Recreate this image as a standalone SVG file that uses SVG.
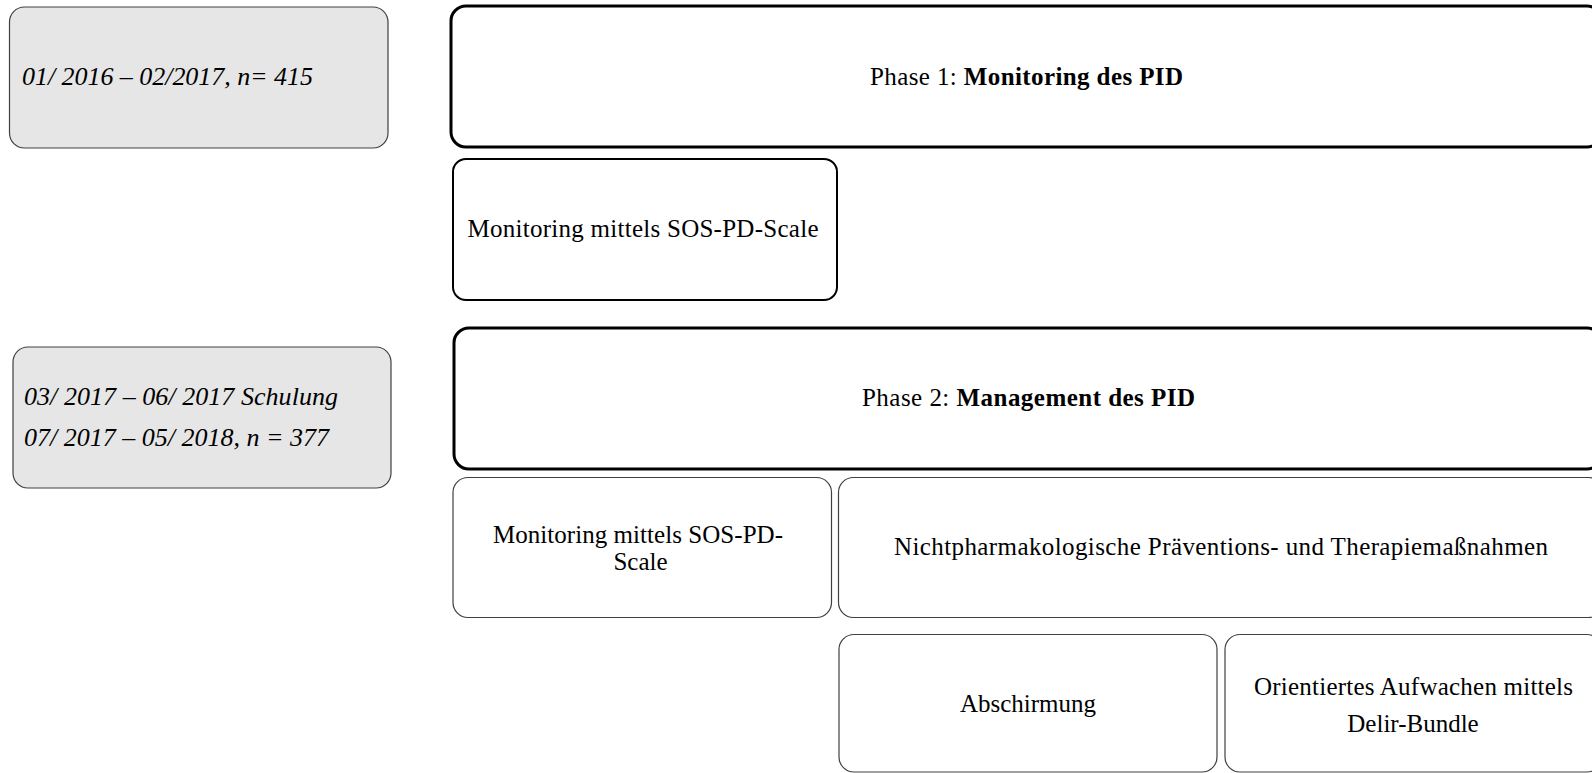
<svg xmlns="http://www.w3.org/2000/svg" width="1592" height="773" viewBox="0 0 1592 773">
<style>
.bg{fill:#ffffff}
.gray{fill:#e6e6e6;stroke:#404040;stroke-width:1.2}
.phase{fill:#ffffff;stroke:#000000;stroke-width:3}
.mid{fill:#ffffff;stroke:#000000;stroke-width:2}
.thin{fill:#ffffff;stroke:#404040;stroke-width:1.2}
text{font-family:"Liberation Serif","Times New Roman",serif;font-size:25px;fill:#000000}
.it{font-style:italic;font-size:26px}
.c{text-anchor:middle}
.b{font-weight:bold}
</style>
<rect class="bg" x="0" y="0" width="1592" height="773"/>
<g id="period1">
<rect class="gray" x="9.5" y="7" width="378.5" height="141" rx="15"/>
<text class="it" x="22" y="85" textLength="291" lengthAdjust="spacing">01/ 2016 – 02/2017, n= 415</text>
</g>
<g id="phase1">
<rect class="phase" x="451" y="6" width="1151" height="141" rx="15"/>
<text class="c" x="1026.5" y="85" textLength="313" lengthAdjust="spacing">Phase 1: <tspan class="b">Monitoring des PID</tspan></text>
</g>
<g id="monitoring1">
<rect class="mid" x="453" y="159" width="384" height="141" rx="13"/>
<text class="c" x="643" y="237" textLength="351" lengthAdjust="spacing">Monitoring mittels SOS-PD-Scale</text>
</g>
<g id="period2">
<rect class="gray" x="13" y="347" width="378" height="141" rx="15"/>
<text class="it" x="24" y="405" textLength="314" lengthAdjust="spacing">03/ 2017 – 06/ 2017 Schulung</text>
<text class="it" x="24" y="446" textLength="305" lengthAdjust="spacing">07/ 2017 – 05/ 2018, n = 377</text>
</g>
<g id="phase2">
<rect class="phase" x="454" y="328" width="1148" height="141" rx="15"/>
<text class="c" x="1028.5" y="406" textLength="333" lengthAdjust="spacing">Phase 2: <tspan class="b">Management des PID</tspan></text>
</g>
<g id="monitoring2">
<rect class="thin" x="453" y="477.5" width="378.5" height="140" rx="15"/>
<text class="c" x="638" y="543" textLength="290" lengthAdjust="spacing">Monitoring mittels SOS-PD-</text>
<text class="c" x="640.5" y="570">Scale</text>
</g>
<g id="nonpharm">
<rect class="thin" x="838.5" y="477.5" width="765" height="140" rx="15"/>
<text class="c" x="1221" y="555" textLength="654" lengthAdjust="spacing">Nichtpharmakologische Präventions- und Therapiemaßnahmen</text>
</g>
<g id="abschirmung">
<rect class="thin" x="839" y="634.5" width="378" height="137.5" rx="15"/>
<text class="c" x="1028" y="712">Abschirmung</text>
</g>
<g id="aufwachen">
<rect class="thin" x="1225" y="634.5" width="377" height="137.5" rx="15"/>
<text class="c" x="1413.5" y="695" textLength="319" lengthAdjust="spacing">Orientiertes Aufwachen mittels</text>
<text class="c" x="1413" y="732">Delir-Bundle</text>
</g>
<g id="connectors"></g>
</svg>
